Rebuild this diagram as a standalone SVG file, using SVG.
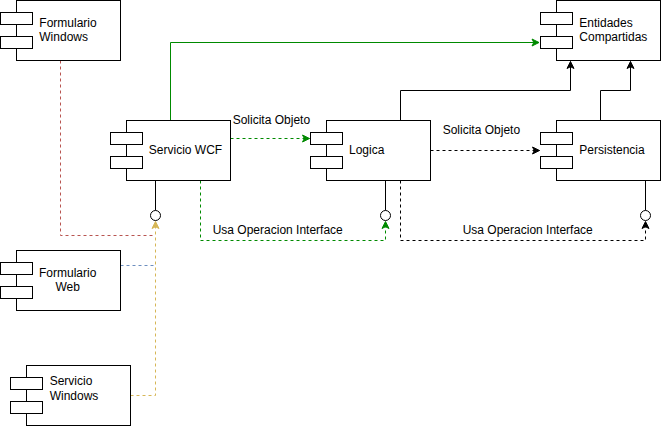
<svg xmlns="http://www.w3.org/2000/svg" width="661" height="426" viewBox="0 0 661 426">
<style>
.body{fill:#fff;stroke:#000;stroke-width:1}
.port{fill:#fff;stroke:#000;stroke-width:1}
text{font-family:"Liberation Sans",Arial,sans-serif;font-size:12px;fill:#000}
.c{fill:none;stroke-width:1}
.d{stroke-dasharray:3 3}
.lolli{fill:#fff;stroke:#000;stroke-width:1}
</style>
<defs>
<marker id="ag" markerUnits="userSpaceOnUse" markerWidth="10" markerHeight="10" refX="8" refY="5" orient="auto"><path d="M1,1.5 L8,5 L1,8.5 L2.8,5 Z" fill="#008a00" stroke="#008a00"/></marker>
<marker id="ak" markerUnits="userSpaceOnUse" markerWidth="10" markerHeight="10" refX="8" refY="5" orient="auto"><path d="M1,1.5 L8,5 L1,8.5 L2.8,5 Z" fill="#000" stroke="#000"/></marker>
<marker id="at" markerUnits="userSpaceOnUse" markerWidth="10" markerHeight="10" refX="8" refY="5" orient="auto"><path d="M1,1.5 L8,5 L1,8.5 L2.8,5 Z" fill="#d6b656" stroke="#d6b656"/></marker>
</defs>
<g id="connectors">
<path class="c" stroke="#008a00" d="M170.5,120.5 V42.5 H539" marker-end="url(#ag)"/>
<path class="c d" stroke="#008a00" d="M230.5,138.5 H309.5" marker-end="url(#ag)"/>
<path class="c d" stroke="#008a00" d="M200.5,180.5 V240.5 H385.5 V221.5" marker-end="url(#ag)"/>
<path class="c" stroke="#000" d="M400.5,120.5 V90.5 H570.5 V61.5" marker-end="url(#ak)"/>
<path class="c" stroke="#000" d="M600.5,120.5 V90.5 H630.5 V61.5" marker-end="url(#ak)"/>
<path class="c d" stroke="#000" d="M430.5,150.5 H539.5" marker-end="url(#ak)"/>
<path class="c d" stroke="#000" d="M400.5,180.5 V240.5 H645.5 V221.5" marker-end="url(#ak)"/>
<path class="c d" stroke="#b85450" d="M60.5,60.5 V235.5 H155.5"/>
<path class="c d" stroke="#6c8ebf" d="M120.5,265.5 H155.5"/>
<path class="c d" stroke="#d6b656" d="M130.5,395.5 H155.5 V221.5" marker-end="url(#at)"/>
<text x="232.7" y="124">Solicita Objeto</text>
<text x="442.7" y="134">Solicita Objeto</text>
<text x="212.7" y="234">Usa Operacion Interface</text>
<text x="462.7" y="234">Usa Operacion Interface</text>
</g>
<g id="formulario-windows">
<rect class="body" x="16.5" y="0.5" width="104" height="60"/>
<rect class="port" x="0.5" y="12.5" width="32" height="12"/>
<rect class="port" x="0.5" y="36.5" width="32" height="12"/>
<text x="39.3" y="27">Formulario</text>
<text x="39.3" y="41">Windows</text>
</g>
<g id="servicio-wcf">
<rect class="body" x="126.5" y="120.5" width="104" height="60"/>
<rect class="port" x="110.5" y="132.5" width="32" height="12"/>
<rect class="port" x="110.5" y="156.5" width="32" height="12"/>
<text x="185.5" y="154" text-anchor="middle">Servicio WCF</text>
<path d="M155.5,180.5 V210.5" stroke="#000" fill="none"/>
<circle class="lolli" cx="155.5" cy="215.5" r="5"/>
</g>
<g id="logica">
<rect class="body" x="326.5" y="120.5" width="104" height="60"/>
<rect class="port" x="310.5" y="132.5" width="32" height="12"/>
<rect class="port" x="310.5" y="156.5" width="32" height="12"/>
<text x="349" y="154">Logica</text>
<path d="M385.5,180.5 V210.5" stroke="#000" fill="none"/>
<circle class="lolli" cx="385.5" cy="215.5" r="5"/>
</g>
<g id="persistencia">
<rect class="body" x="556.5" y="120.5" width="104" height="60"/>
<rect class="port" x="540.5" y="132.5" width="32" height="12"/>
<rect class="port" x="540.5" y="156.5" width="32" height="12"/>
<text x="579.3" y="154">Persistencia</text>
<path d="M645.5,180.5 V210.5" stroke="#000" fill="none"/>
<circle class="lolli" cx="645.5" cy="215.5" r="5"/>
</g>
<g id="entidades-compartidas">
<rect class="body" x="556.5" y="0.5" width="104" height="60"/>
<rect class="port" x="540.5" y="12.5" width="32" height="12"/>
<rect class="port" x="540.5" y="36.5" width="32" height="12"/>
<text x="579.3" y="27">Entidades</text>
<text x="579.3" y="40.5">Compartidas</text>
</g>
<g id="formulario-web">
<rect class="body" x="16.5" y="250.5" width="104" height="60"/>
<rect class="port" x="0.5" y="262.5" width="32" height="12"/>
<rect class="port" x="0.5" y="286.5" width="32" height="12"/>
<text x="67.7" y="277" text-anchor="middle">Formulario</text>
<text x="67.7" y="291" text-anchor="middle">Web</text>
</g>
<g id="servicio-windows">
<rect class="body" x="26.5" y="365.5" width="104" height="60"/>
<rect class="port" x="10.5" y="377.5" width="32" height="12"/>
<rect class="port" x="10.5" y="401.5" width="32" height="12"/>
<text x="49.7" y="385">Servicio</text>
<text x="49.7" y="399.5">Windows</text>
</g>
</svg>
